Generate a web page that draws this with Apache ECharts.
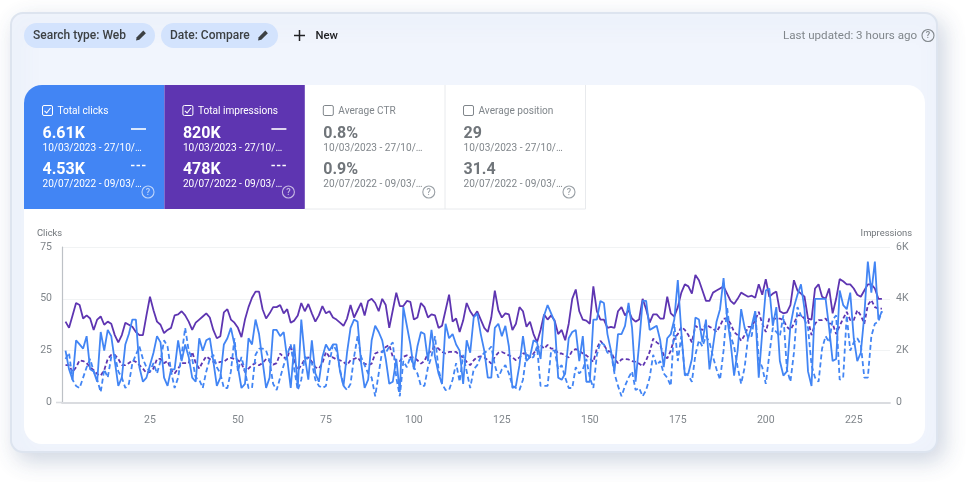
<!DOCTYPE html>
<html>
<head>
<meta charset="utf-8">
<style>html,body{margin:0;padding:0;background:#fff}#c{width:968px;height:482px}</style>
<script src="https://cdn.jsdelivr.net/npm/echarts@6/dist/echarts.min.js"></script>
</head>
<body>
<div id="c"></div>
<script>
const clicksCurrent = [
25,16,11,30,28,26,32,16,15,10,
34,25,35,32,20,8,12,28,33,40,
40,17,10,12,18,24,32,29,12,8,
16,16,30,20,28,22,12,10,31,25,
30,31,20,8,12,28,31,36,28,17,
7,9,31,28,40,33,20,7,12,35,
35,32,34,21,7,28,7,40,22,11,
30,14,10,22,28,25,28,28,15,8,
24,36,40,39,19,7,11,30,37,34,
30,21,9,10,21,5,46,37,28,16,
27,34,33,20,35,22,14,9,38,31,
33,28,25,9,30,24,41,43,33,25,
12,12,36,38,32,37,27,7,8,18,
32,20,22,30,29,21,42,47,43,39,
12,11,14,31,34,35,20,32,10,10,
40,40,49,48,33,25,15,33,33,37,
48,36,10,28,49,49,35,36,37,30,
17,31,33,40,59,34,13,14,21,41,
40,29,40,16,27,39,45,60,41,29,
13,25,45,36,31,37,44,12,34,54,
55,37,46,20,13,15,37,46,52,57,
45,15,8,50,50,50,50,36,20,21,
54,47,45,53,31,20,24,42,68,53,
68,40,44];
const impressionsCurrent = [
3120,2880,3360,3840,3760,3240,3360,3240,2800,3200,
3320,3000,3120,3040,2600,2320,2600,3080,3000,2920,
2720,2600,2600,3360,4080,3560,3120,3000,2680,2800,
2880,3360,3400,3520,3360,3120,2800,3080,3200,3320,
3440,3280,2800,2480,2560,3480,3600,3200,3080,2880,
2520,3200,3680,4040,4280,4280,3600,3240,3440,3680,
3680,3760,3440,3600,3080,3160,3360,3840,3520,3800,
3440,3120,3360,3720,3440,3520,3280,3200,3080,2960,
3240,3760,3280,3560,3840,3360,3920,4000,3840,3520,
4000,3760,2880,3560,4240,3720,3720,3920,3880,3200,
3280,3840,3680,3280,3400,3360,2880,2960,3560,4160,
3120,3240,2720,3160,3840,3520,3320,3520,3200,2880,
2720,3280,4320,3560,3280,3440,3400,2800,3040,3680,
3520,2920,3120,2640,2320,2800,3400,3200,3360,3160,
2640,2800,2400,3040,4000,4360,3520,3200,3160,3040,
4480,3520,3200,3200,2880,2920,2880,3520,3680,3360,
3560,3240,3120,3200,4000,3600,3080,3400,3400,3240,
3240,4080,3440,3320,3680,4240,4560,4480,4200,4920,
4720,4320,3920,3920,4240,4320,4400,4480,4200,3920,
3800,4000,4240,4160,4080,4120,4040,4560,4160,4760,
4080,4200,4280,3520,3440,3480,3760,4720,4320,4200,
4080,3240,3200,4400,4560,4080,4000,4400,3440,4000,
4760,4680,4560,4560,4400,4160,4080,4320,4560,4560,
4400,4000,4000];
const clicksPrevious = [
21,24,11,8,7,12,17,21,15,11,
5,16,12,22,23,15,12,7,9,19,
23,27,21,17,15,19,14,20,30,27,
15,7,12,23,36,25,21,12,11,7,
15,21,23,17,14,7,7,15,31,15,
22,15,7,7,23,26,26,25,20,9,
6,12,18,23,28,16,6,11,22,21,
19,11,8,7,8,19,28,25,16,8,
6,9,22,32,22,18,14,12,3,14,
25,24,27,29,12,3,20,17,22,17,
14,8,8,17,22,32,16,9,6,6,
11,19,10,23,15,7,16,18,22,24,
25,27,18,12,16,18,14,8,7,6,
11,24,21,22,27,8,8,8,25,25,
16,18,12,7,7,17,14,16,21,12,
7,23,29,28,24,24,14,8,3,8,
12,15,6,7,3,6,12,23,18,20,
14,12,8,38,20,32,14,13,10,23,
30,27,32,29,22,16,11,25,46,32,
27,17,9,17,32,32,44,21,17,9,
23,36,34,32,42,16,10,24,46,42,
40,36,18,12,10,26,32,29,40,42,
11,12,42,25,29,31,28,12,12,32,
38,39,44];
const impressionsPrevious = [
1440,1440,1180,1360,1630,1600,1520,1360,1250,1100,
1040,1250,1680,1840,1840,1680,1440,1440,1520,1630,
1570,1440,1310,1140,1180,1310,1680,1680,1520,1600,
1250,1120,1310,1520,1520,1520,1950,1520,1310,1570,
1780,1680,1570,1520,1570,1570,1680,1720,1680,1630,
1520,1180,1310,1440,1520,1440,1520,1680,1600,1460,
1520,1890,1740,1680,2220,1600,1250,1440,1680,1740,
1570,1360,1310,1520,1950,1760,1740,1660,1630,1570,
1440,1630,1680,1740,1570,1500,1440,1500,1890,1950,
1950,2140,2220,1760,1600,1600,1760,1820,1740,1740,
1630,1500,1600,1890,2000,2160,2080,1950,1890,1950,
1950,1950,1820,1740,1570,1440,1630,1760,1780,1740,
1630,1500,1760,1920,1950,1890,1820,1740,1630,1740,
1890,1890,1740,1890,2080,2220,2080,2220,2080,2080,
1890,1890,1820,1740,2000,2060,2000,1890,1820,1700,
1570,2080,2380,2220,2000,1950,1680,1520,1660,1680,
1660,1600,1570,1500,1400,1630,1950,2460,2320,2220,
1820,1700,2000,2480,2640,2920,2800,2600,2320,2960,
2860,2800,3040,2920,2860,2720,2960,3240,3240,3040,
2720,2600,2380,2600,2920,2920,3180,3500,3040,2720,
3240,3240,3240,3240,3180,2920,2800,3040,3360,3360,
3240,3180,2600,3040,3180,3180,3240,3040,3040,2640,
2960,3240,3500,3180,3180,3560,3360,3040,3760,3950,
3680,3620,3620];
const clickTicks = [0, 25, 50, 75];
const impressionTicks = ['0', '2K', '4K', '6K'];
const tiles = [
  {name:'Total clicks', a:'6.61K', b:'4.53K', on:true, bg:'#4285f4'},
  {name:'Total impressions', a:'820K', b:'478K', on:true, bg:'#5e35b1'},
  {name:'Average CTR', a:'0.8%', b:'0.9%', on:false, bg:'#ffffff'},
  {name:'Average position', a:'29', b:'31.4', on:false, bg:'#ffffff'}
];
const rangeCurrent = '10/03/2023 - 27/10/…';
const rangePrevious = '20/07/2022 - 09/03/…';

const FONT = 'Roboto, sans-serif';
const g = [];
function txt(text, x, y, size, fill, weight, align){
  g.push({type:'text', silent:true, style:{text, x, y, fill, font:(weight||400)+' '+size+'px '+FONT, textAlign:align||'left', textVerticalAlign:'middle'}});
}
function rect(x,y,w,h,fill,r,extra){
  g.push({type:'rect', silent:true, shape:{x,y,width:w,height:h,r:r||0}, style:Object.assign({fill},extra||{})});
}
function line(x1,y1,x2,y2,stroke,w,dash){
  g.push({type:'line', silent:true, shape:{x1,y1,x2,y2}, style:{stroke,lineWidth:w||1,lineDash:dash||null}});
}
function help(cx,cy,color){
  g.push({type:'circle', silent:true, shape:{cx,cy,r:6},style:{fill:'none',stroke:color,lineWidth:1.1}});
  txt('?',cx,cy+0.5,9,color,500,'center');
}
function pencil(x,y){
  g.push({type:'polygon', silent:true, shape:{points:[[x,y+10.5],[x+0.7,y+7.2],[x+7.3,y+0.6],[x+9.9,y+3.2],[x+3.3,y+9.8]]}, style:{fill:'#3c4043'}});
}

// panel
rect(11,13,926,439,'#f1f5fd',12,{stroke:'#dde4ef',lineWidth:2,shadowBlur:22,shadowColor:'rgba(90,110,150,0.28)',shadowOffsetX:6,shadowOffsetY:8});
rect(24,85,901,359,'#ffffff',18);

// chips
rect(24,23,131,25,'#d3e3fd',12.5);
txt('Search type: Web',33,36,12,'#3c4043',500);
pencil(136,30);
rect(161,23,117,25,'#d3e3fd',12.5);
txt('Date: Compare',170,36,12,'#3c4043',500);
pencil(258,30);
line(294,35.5,305,35.5,'#202124',1.5);
line(299.5,30,299.5,41,'#202124',1.5);
txt('New',315.5,36.5,11.3,'#202124',500);
txt('Last updated: 3 hours ago',783,36,11.6,'#80868b',400);
help(928,35.5,'#80868b');

// tiles
const tileLeft = [24,164.4,304.8,445];
const tileRight = [164.4,304.8,445,585.5];
tiles.forEach((t,i)=>{
  const L = tileLeft[i], W = tileRight[i]-L;
  const fg = t.on ? '#ffffff' : '#70757a';
  const sub = t.on ? '#ffffff' : '#80868b';
  if (i === 0) {
    g.push({type:'rect', silent:true, shape:{x:L,y:85,width:W,height:124,r:[18,0,0,0]}, style:{fill:t.bg}});
  } else if (t.on) {
    rect(L,85,W,124,t.bg);
  } else {
    line(tileRight[i],85,tileRight[i],209,'#e8eaed',1);
    line(L,209,tileRight[i],209,'#e8eaed',1);
  }
  const x = L + 18.5;
  g.push({type:'rect', silent:true, shape:{x:x,y:105.5,width:10,height:10,r:1.5}, style:{fill:'none',stroke:t.on?'#ffffff':'#80868b',lineWidth:1}});
  if (t.on) g.push({type:'polyline', silent:true, shape:{points:[[x+2,110.8],[x+4.2,113],[x+8,108]]}, style:{stroke:'#ffffff',fill:'none',lineWidth:1.1}});
  txt(t.name,x+15,111.3,10.1,t.on?'#ffffff':'#80868b',400);
  txt(t.a,x,134,16,fg,700);
  txt(rangeCurrent,x,148.2,10.1,sub,400);
  txt(t.b,x,170,16,fg,700);
  txt(rangePrevious,x,184.8,10.1,sub,400);
  if (t.on) {
    line(L+107,129,L+122,129,'#ffffff',1.6);
    line(L+107,165.5,L+122,165.5,'#ffffff',1.6,[3.5,2]);
  }
  help(L+124,192,t.on?'rgba(255,255,255,0.65)':'#9aa0a6');
});

// axis titles
txt('Clicks',37,234,9.4,'#70757a',400);
txt('Impressions',912,234,9.4,'#70757a',400,'right');
line(56,402.5,62,402.5,'#dadce0',1.6);

const pairs = a => a.map((v,i)=>[i+1,v]);
const chart = echarts.init(document.getElementById('c'));
chart.setOption({
  animation:false,
  backgroundColor:'#ffffff',
  graphic:{elements:g.map(e=>Object.assign(e,{z:-10,zlevel:0}))},
  grid:{left:62,right:78,top:247,bottom:79.5,containLabel:false},
  xAxis:{type:'value',min:0,max:235.3,interval:25,
    axisLine:{show:true,lineStyle:{color:'#dadce0',width:1.8}},axisTick:{show:false},splitLine:{show:false},
    axisLabel:{color:'#80868b',fontSize:10.5,fontFamily:FONT,margin:12,showMinLabel:false,showMaxLabel:false}},
  yAxis:[
    {type:'value',min:clickTicks[0],max:clickTicks[3],interval:clickTicks[1],
     axisLine:{show:true,lineStyle:{color:'#bdc1c6',width:1.2}},axisTick:{show:false},
     splitLine:{lineStyle:{color:'#f1f3f4',width:1}},
     axisLabel:{color:'#80868b',fontSize:10.5,fontFamily:FONT,margin:10,padding:[2,0,0,0]}},
    {type:'value',min:0,max:6000,interval:2000,position:'right',
     axisLine:{show:false},axisTick:{show:false},splitLine:{show:false},
     axisLabel:{color:'#80868b',fontSize:10.5,fontFamily:FONT,margin:6,padding:[2,0,0,0],
       formatter:v=>impressionTicks[v/2000]}}
  ],
  series:[
    {name:'Impressions 10/03/2023 - 27/10/2023',type:'line',yAxisIndex:1,data:pairs(impressionsCurrent),showSymbol:false,lineStyle:{color:'#5e35b1',width:1.8},itemStyle:{color:'#5e35b1'}},
    {name:'Impressions 20/07/2022 - 09/03/2023',type:'line',yAxisIndex:1,data:pairs(impressionsPrevious),showSymbol:false,lineStyle:{color:'#5e35b1',width:1.8,type:[4,2.5]},itemStyle:{color:'#5e35b1'}},
    {name:'Clicks 20/07/2022 - 09/03/2023',type:'line',data:pairs(clicksPrevious),showSymbol:false,lineStyle:{color:'#4285f4',width:1.8,type:[5,3]},itemStyle:{color:'#4285f4'}},
    {name:'Clicks 10/03/2023 - 27/10/2023',type:'line',data:pairs(clicksCurrent),showSymbol:false,lineStyle:{color:'#4285f4',width:1.8},itemStyle:{color:'#4285f4'}}
  ]
});
</script>
</body>
</html>
